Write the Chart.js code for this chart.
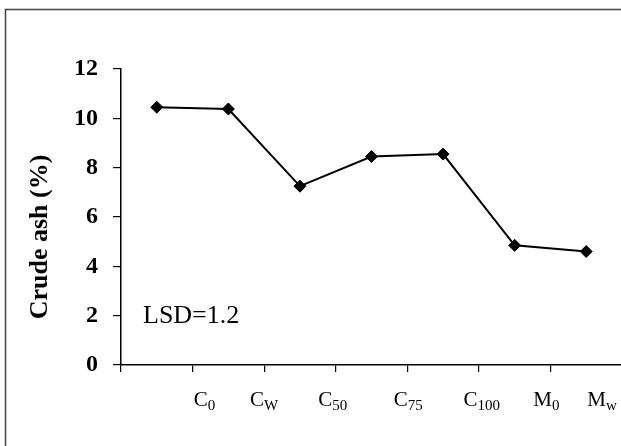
<!DOCTYPE html>
<html>
<head>
<meta charset="utf-8">
<script src="https://cdn.jsdelivr.net/npm/chart.js@4/dist/chart.umd.min.js"></script>
<style>
  html, body { margin: 0; padding: 0; background: #ffffff; overflow: hidden; }
  #wrap { width: 621px; height: 446px; overflow: hidden; }
</style>
</head>
<body>
<div id="wrap"><canvas id="c" width="629" height="446"></canvas></div>
<script>
// ---- data ----
const categories = ["C0", "CW", "C50", "C75", "C100", "M0", "Mw"];
const labelMain  = ["C", "C", "C", "C", "C", "M", "M"];
const labelSub   = ["0", "W", "50", "75", "100", "0", "w"];
const crudeAsh   = [10.45, 10.38, 7.25, 8.45, 8.55, 4.85, 4.6];
const yTicks     = [0, 2, 4, 6, 8, 10, 12];
const yTitle     = "Crude ash (%)";
const noteText   = "LSD=1.2";

// ---- plugins ----
const frameAndText = {
  id: 'frameAndText',
  beforeDraw(chart) {
    const ctx = chart.ctx;
    ctx.save();
    ctx.fillStyle = '#ffffff';
    ctx.fillRect(0, 0, chart.width, chart.height);
    ctx.strokeStyle = '#4a4a4a';
    ctx.lineWidth = 1.6;
    ctx.strokeRect(5.5, 9.5, chart.width + 20, chart.height + 20);
    ctx.restore();
  },
  afterDraw(chart, args, opts) {
    const ctx = chart.ctx;
    const xs = chart.scales.x;
    const ca = chart.chartArea;
    ctx.save();
    ctx.fillStyle = '#000000';
    // y axis title
    ctx.save();
    ctx.translate(40, (ca.top + ca.bottom) / 2 + 20);
    ctx.rotate(-Math.PI / 2);
    ctx.font = 'bold 26px "Liberation Serif", "Times New Roman", serif';
    ctx.textAlign = 'center';
    ctx.textBaseline = 'middle';
    ctx.fillText(yTitle, 0, 0);
    ctx.restore();
    // note
    ctx.font = '26px "Liberation Serif", "Times New Roman", serif';
    ctx.textAlign = 'left';
    ctx.textBaseline = 'alphabetic';
    ctx.fillText(noteText, ca.left + 22, ca.bottom - 42);
    // category labels with subscripts
    const n = categories.length;
    const cw = xs.width / n;
    const mainFont = '21px "Liberation Serif", "Times New Roman", serif';
    const subFont = '15px "Liberation Serif", "Times New Roman", serif';
    const base = ca.bottom + 41;
    for (let i = 0; i < n; i++) {
      const boundary = xs.getPixelForValue(i) + cw / 2 + (opts.nudge[i] || 0);
      ctx.font = mainFont;
      const wm = ctx.measureText(labelMain[i]).width;
      ctx.font = subFont;
      const ws = ctx.measureText(labelSub[i]).width;
      const x0 = boundary - (wm + ws) / 2;
      ctx.font = mainFont;
      ctx.fillText(labelMain[i], x0, base);
      ctx.font = subFont;
      ctx.fillText(labelSub[i], x0 + wm, base + 4);
    }
    ctx.restore();
  }
};

new Chart(document.getElementById('c'), {
  type: 'line',
  data: {
    labels: categories,
    datasets: [{
      data: crudeAsh,
      borderColor: '#000000',
      borderWidth: 2,
      backgroundColor: '#000000',
      pointStyle: 'rectRot',
      pointRadius: 6,
      pointHoverRadius: 6,
      pointBackgroundColor: '#000000',
      pointBorderColor: '#000000',
      pointBorderWidth: 1,
      tension: 0,
      fill: false
    }]
  },
  options: {
    responsive: false,
    animation: false,
    devicePixelRatio: 1,
    events: [],
    layout: { padding: { left: 0, top: 69, right: 0, bottom: 0 } },
    plugins: {
      legend: { display: false },
      tooltip: { enabled: false },
      title: { display: false },
      frameAndText: { nudge: [12, 0, -3, 1, 3, -4, -20] }
    },
    scales: {
      x: {
        type: 'category',
        offset: true,
        grid: { offset: true, drawOnChartArea: false, drawTicks: true, tickLength: 7, color: '#000000', lineWidth: 1.2 },
        border: { display: true, color: '#000000', width: 1.5 },
        ticks: { display: false },
        afterFit(scale) { scale.height = 81; }
      },
      y: {
        min: 0,
        max: 12,
        afterBuildTicks(scale) { scale.ticks = yTicks.map(v => ({ value: v })); },
        grid: { drawOnChartArea: false, drawTicks: true, tickLength: 8, color: '#000000', lineWidth: 1.2 },
        border: { display: true, color: '#000000', width: 1.5 },
        ticks: {
          color: '#000000',
          padding: 15,
          font: { family: '"Liberation Serif", "Times New Roman", serif', size: 24, weight: 'bold' }
        },
        afterFit(scale) { scale.width = 121; }
      }
    }
  },
  plugins: [frameAndText]
});
</script>
</body>
</html>
